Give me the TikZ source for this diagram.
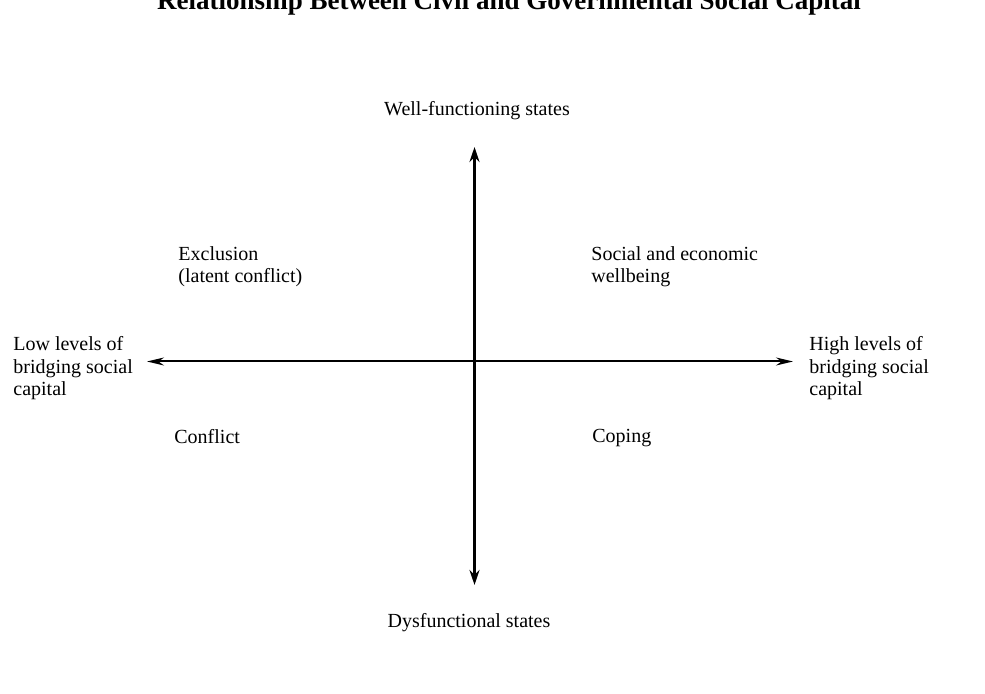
\documentclass[tikz,border=0pt]{standalone}
\usepackage{fontspec}
\setmainfont{Liberation Serif}
\usepackage{tikz}
\usetikzlibrary{arrows.meta, positioning}
\tikzstyle{axistext}=[inner sep=0pt, font=\fontsize{10pt}{11.3pt}\selectfont, align=left, anchor=north west]
\tikzstyle{quadrant}=[inner sep=0pt, font=\fontsize{10pt}{11.3pt}\selectfont, align=left, anchor=north west]
\tikzstyle{poletext}=[inner sep=0pt, font=\fontsize{10pt}{11.3pt}\selectfont, anchor=base]

\begin{document}
\begin{tikzpicture}[x=0.5pt, y=-0.5pt]
      \useasboundingbox (0,0) rectangle (985,694);

      \node[inner sep=0pt, anchor=base, font=\bfseries\fontsize{13.5pt}{15pt}\selectfont] (title) at (509,10)
            {Relationship Between Civil and Governmental Social Capital};

      \coordinate (o)     at (474.5,361.5);
      \coordinate (top)   at (474.5,147);
      \coordinate (bot)   at (474.5,585);
      \coordinate (left)  at (147,361.5);
      \coordinate (right) at (793,361.5);

      \node[poletext] (well) at (477,116) {Well-functioning states};
      \node[poletext] (dys)  at (469,627) {Dysfunctional states};

      \node[axistext] (low)  at (13,336)  {Low levels of\\bridging social\\capital};
      \node[axistext] (high) at (809,336) {High levels of\\bridging social\\capital};

      \node[quadrant] (excl)  at (178,246) {Exclusion\\(latent conflict)};
      \node[quadrant] (welfare) at (591,246) {Social and economic\\wellbeing};
      \node[quadrant] (conf)  at (174,429) {Conflict};
      \node[quadrant] (cope)  at (592,429) {Coping};

      \draw[line width=1.5pt, {Stealth[length=7.5pt,width=5pt]}-{Stealth[length=7.5pt,width=5pt]}] (top) -- (bot);
      \draw[line width=1pt, {Stealth[length=8.5pt,width=4pt]}-{Stealth[length=8.5pt,width=4pt]}] (left) -- (right);
\end{tikzpicture}
\end{document}
